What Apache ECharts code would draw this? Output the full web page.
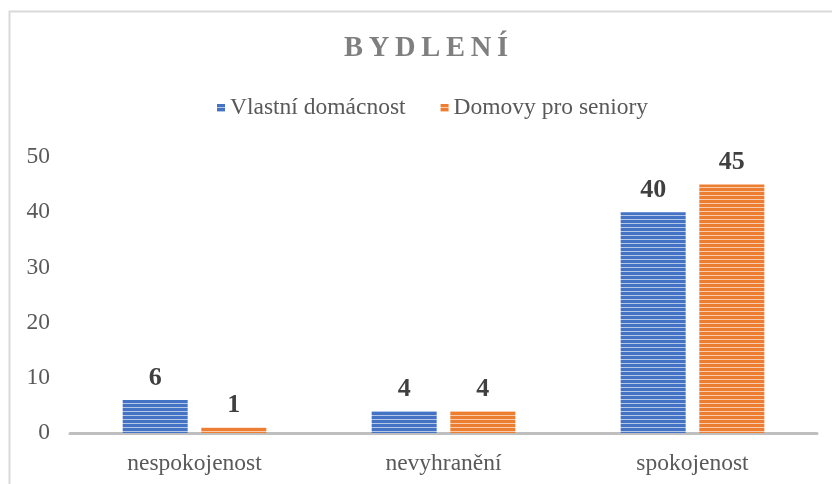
<!DOCTYPE html>
<html>
<head>
<meta charset="utf-8">
<script src="https://cdn.jsdelivr.net/npm/echarts@6/dist/echarts.min.js"></script>
<style>html,body{margin:0;padding:0;background:#fff}#c{width:832px;height:484px}</style>
</head>
<body>
<div id="c"></div>
<script>
var categories = ['nespokojenost', 'nevyhranění', 'spokojenost'];
var seriesNames = ['Vlastní domácnost', 'Domovy pro seniory'];
var vlastni = [6, 4, 40];
var domovy = [1, 4, 45];
var yTicks = [0, 10, 20, 30, 40, 50];

function stripes(base, light) {
  var c = document.createElement('canvas');
  c.width = 8; c.height = 4;
  var g = c.getContext('2d');
  g.fillStyle = base; g.fillRect(0, 0, 8, 4);
  g.fillStyle = light; g.fillRect(0, 3, 8, 1);
  return { image: c, repeat: 'repeat' };
}
var blue = stripes('#4472c4', '#b4c7e7');
var orange = stripes('#ed7d31', '#f8cbad');

var serif = '"Liberation Serif", "DejaVu Serif", serif';
var chart = echarts.init(document.getElementById('c'));
chart.setOption({
  animation: false,
  title: {
    text: 'B\u2009Y\u2009D\u2009L\u2009E\u2009N\u2009Í',
    left: 339, top: 29,
    textStyle: { fontFamily: serif, fontSize: 28.5, fontWeight: 'bold', color: '#7f7f7f' }
  },
  legend: {
    top: 91, left: 212,
    itemWidth: 8, itemHeight: 8, itemGap: 35,
    icon: 'rect',
    textStyle: { fontFamily: serif, fontSize: 23.5, color: '#595959' },
    data: seriesNames
  },
  graphic: [{
    type: 'rect', shape: { x: 9.5, y: 11.5, width: 900, height: 600 },
    style: { fill: 'none', stroke: '#d9d9d9', lineWidth: 2 }, silent: true
  }],
  grid: { left: 70, right: 15, top: 157, bottom: 51, containLabel: false },
  xAxis: {
    type: 'category', data: categories,
    axisLine: { lineStyle: { color: '#bfbfbf', width: 3 } },
    axisTick: { show: false },
    axisLabel: { fontFamily: serif, fontSize: 23.5, color: '#595959', margin: 19 }
  },
  yAxis: {
    type: 'value', min: 0, max: 50, interval: 10,
    axisLine: { show: false }, axisTick: { show: false },
    splitLine: { show: false },
    axisLabel: { fontFamily: serif, fontSize: 23.5, color: '#595959', margin: 20,
      formatter: function (v) { return yTicks.indexOf(v) >= 0 ? String(v) : ''; } }
  },
  series: [
    { name: seriesNames[0], type: 'bar', data: vlastni, barWidth: 65, barGap: '21%',
      itemStyle: { color: blue },
      label: { show: true, position: 'top', distance: 9, fontFamily: serif, fontSize: 26, fontWeight: 'bold', color: '#404040' } },
    { name: seriesNames[1], type: 'bar', data: domovy, barWidth: 65,
      itemStyle: { color: orange },
      label: { show: true, position: 'top', distance: 9, fontFamily: serif, fontSize: 26, fontWeight: 'bold', color: '#404040' } }
  ]
});
</script>
</body>
</html>
